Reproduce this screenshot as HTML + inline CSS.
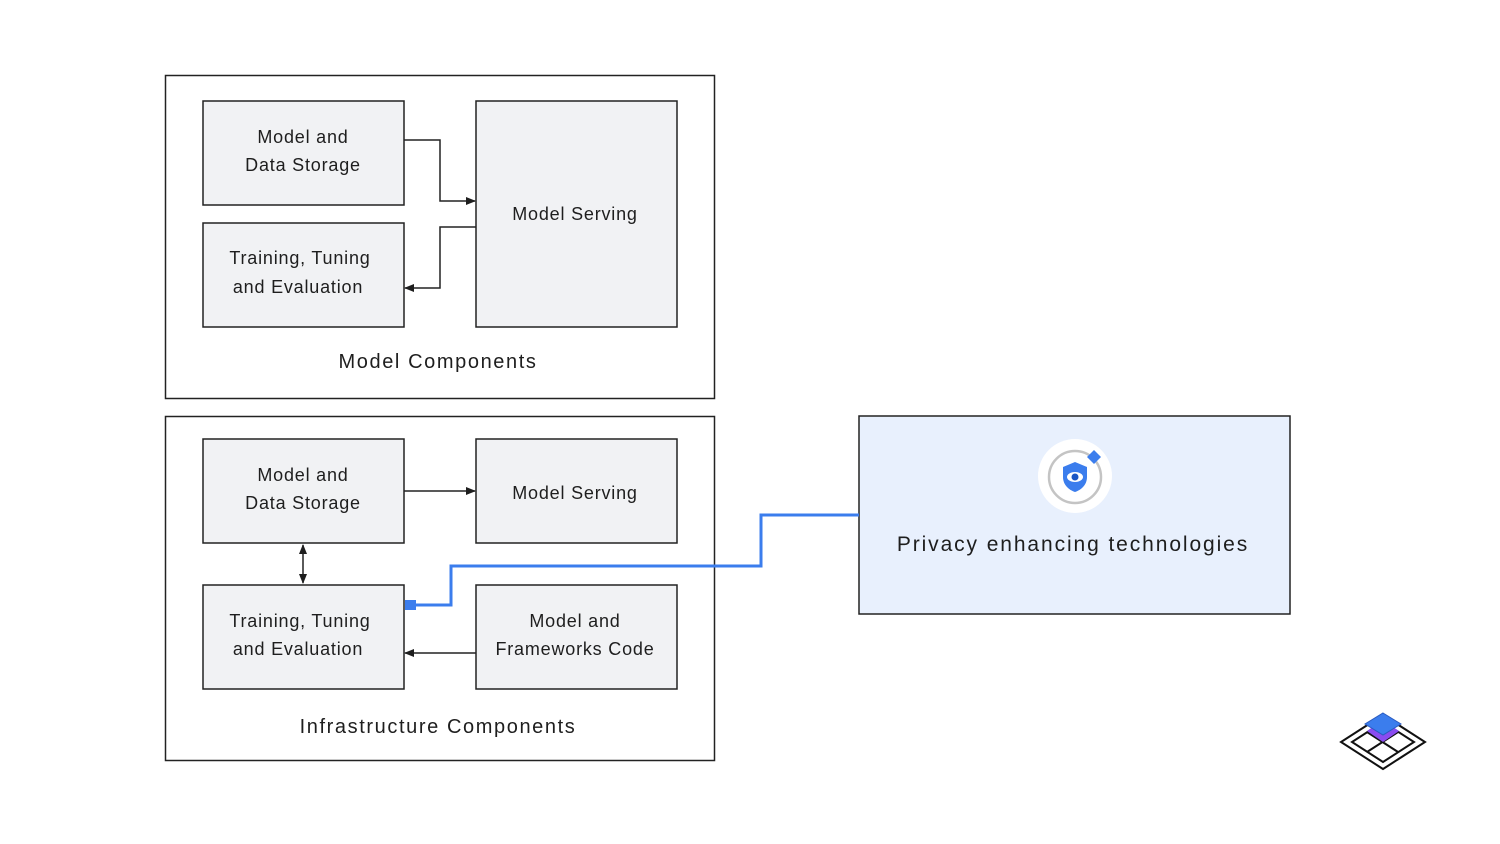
<!DOCTYPE html>
<html><head><meta charset="utf-8"><style>
html,body{margin:0;padding:0;background:#fff;}
svg{display:block;}
text{font-family:"Liberation Sans",sans-serif;fill:#1e1e1e;text-anchor:middle;}
.b{font-size:18px;letter-spacing:0.8px;}
.t{font-size:20px;letter-spacing:1.6px;}
</style></head><body>
<svg width="1500" height="844" viewBox="0 0 1500 844" xmlns="http://www.w3.org/2000/svg">
<defs>
<marker id="a" markerWidth="10" markerHeight="8" refX="9" refY="4" orient="auto" markerUnits="userSpaceOnUse">
<path d="M0,0 L10,4 L0,8 z" fill="#1e1e1e"/></marker>
<marker id="as" markerWidth="10" markerHeight="8" refX="1" refY="4" orient="auto" markerUnits="userSpaceOnUse">
<path d="M10,0 L0,4 L10,8 z" fill="#1e1e1e"/></marker>
</defs>
<g fill="none" stroke="#222" stroke-width="1.5">
<rect x="165.5" y="75.5" width="549" height="323" fill="#fff"/>
<rect x="165.5" y="416.5" width="549" height="344" fill="#fff"/>
</g>
<g fill="#f1f2f4" stroke="#222" stroke-width="1.5">
<rect x="203" y="101" width="201" height="104"/>
<rect x="203" y="223" width="201" height="104"/>
<rect x="476" y="101" width="201" height="226"/>
<rect x="203" y="439" width="201" height="104"/>
<rect x="476" y="439" width="201" height="104"/>
<rect x="203" y="585" width="201" height="104"/>
<rect x="476" y="585" width="201" height="104"/>
</g>
<rect x="859" y="416" width="431" height="198" fill="#e8f0fd" stroke="#222" stroke-width="1.5"/>
<g fill="none" stroke="#222" stroke-width="1.5">
<path d="M404,140 H440 V201 H475" marker-end="url(#a)"/>
<path d="M476,227 H440 V288 H405" marker-end="url(#a)"/>
<path d="M404,491 H475" marker-end="url(#a)"/>
<path d="M476,653 H405" marker-end="url(#a)"/>
<path d="M303,545 V583" marker-end="url(#a)" marker-start="url(#as)"/>
</g>
<path d="M859,515 H761 V566 H451 V605 H410" fill="none" stroke="#3b7ded" stroke-width="3"/>
<rect x="405" y="600" width="11" height="10" fill="#3b7ded"/>
<text class="b" x="303" y="143">Model  and</text>
<text class="b" x="303" y="171">Data Storage</text>
<text class="b" x="300" y="264">Training,  Tuning</text>
<text class="b" x="298" y="293">and Evaluation</text>
<text class="b" x="575" y="220">Model  Serving</text>
<text class="t" x="438" y="368">Model Components</text>
<text class="b" x="303" y="481">Model  and</text>
<text class="b" x="303" y="509">Data Storage</text>
<text class="b" x="575" y="499">Model  Serving</text>
<text class="b" x="300" y="627">Training,  Tuning</text>
<text class="b" x="298" y="655">and Evaluation</text>
<text class="b" x="575" y="627">Model  and</text>
<text class="b" x="575" y="655">Frameworks Code</text>
<text class="t" x="438" y="733">Infrastructure Components</text>
<text class="t" x="1073" y="551" style="font-size:21px;letter-spacing:1.9px">Privacy enhancing technologies</text>
<circle cx="1075" cy="476" r="37" fill="#fff"/>
<circle cx="1075" cy="477" r="26" fill="none" stroke="#c4c4c4" stroke-width="2.5"/>
<path d="M1075,462 L1087,467 V477 C1087,485 1081,490 1075,492 C1069,490 1063,485 1063,477 V467 Z" fill="#3b7ded"/>
<ellipse cx="1075" cy="477" rx="8" ry="5" fill="#fff"/>
<circle cx="1075" cy="477" r="3.5" fill="#1a56c4"/>
<path d="M1094,450 L1101,457 L1094,464 L1087,457 Z" fill="#3b7ded"/>
<g fill="none" stroke="#111" stroke-width="2">
<path d="M1383,715 L1425,742 L1383,769 L1341,742 Z" fill="#fff"/>
<path d="M1383,722 L1414,742 L1383,762 L1352,742 Z"/>
<path d="M1367,732 L1398,752 M1398,732 L1367,752"/>
</g>
<path d="M1383,720 L1399,731 L1383,742 L1367,731 Z" fill="#8a4cf0"/>
<path d="M1383,713 L1401,724 L1383,735 L1365,724 Z" fill="#3b7ded" stroke="#2a5bc0" stroke-width="1"/>
</svg>
</body></html>
